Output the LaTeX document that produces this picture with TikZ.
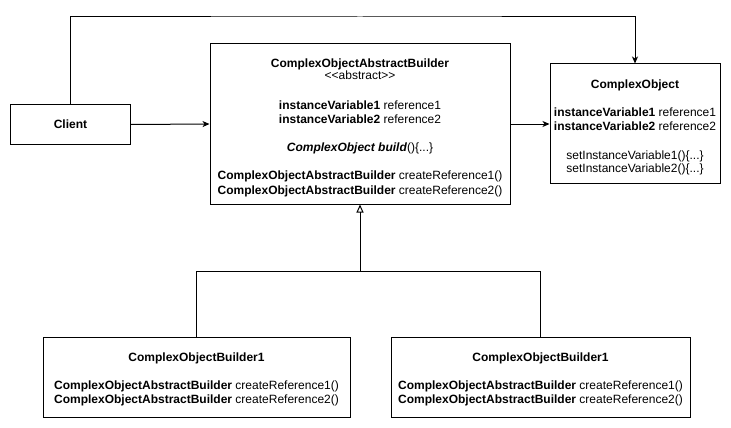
\documentclass[tikz,border=0pt]{standalone}
\usepackage{fontspec}
\setmainfont{Liberation Sans}
\usetikzlibrary{arrows.meta}
\begin{document}
\begin{tikzpicture}[x=1pt,y=-1pt,
  box/.style={draw=black, line width=1pt, fill=white, inner sep=0pt, align=center,
    font=\fontsize{12}{14}\selectfont},
  arr/.style={draw=black, line width=1pt, -{Stealth[length=7pt,width=6pt,inset=2pt]}},
  inh/.style={draw=black, line width=1pt, -{Triangle[open,length=8pt,width=7pt]}},
  plain/.style={draw=black, line width=1pt}]
\useasboundingbox[fill=white] (0,0) rectangle (731,428);

\node[box, minimum width=120pt, minimum height=40pt] (client) at (70.5,124.5) {\textbf{Client}};

\node[box, minimum width=300pt, minimum height=160pt] (builder) at (360,124) {%
\rule{0pt}{17pt}\textbf{ComplexObjectAbstractBuilder}\\[-2pt]
<{}<abstract>{}>\\[16pt]
\textbf{instanceVariable1} reference1\\
\textbf{instanceVariable2} reference2\\[14pt]
\textbf{\textit{ComplexObject build}}()\{...\}\\[14pt]
\textbf{ComplexObjectAbstractBuilder} createReference1()\\[1pt]
\textbf{ComplexObjectAbstractBuilder} createReference2()};

\node[box, minimum width=170pt, minimum height=119pt] (obj) at (635,123.5) {%
\rule{0pt}{17pt}\textbf{ComplexObject}\\[14pt]
\textbf{instanceVariable1} reference1\\
\textbf{instanceVariable2} reference2\\[15pt]
setInstanceVariable1()\{...\}\\[-1pt]
setInstanceVariable2()\{...\}};

\node[box, minimum width=307pt, minimum height=80pt] (lb) at (196.5,377) {%
\rule{0pt}{13pt}\textbf{ComplexObjectBuilder1}\\[14pt]
\textbf{ComplexObjectAbstractBuilder} createReference1()\\
\textbf{ComplexObjectAbstractBuilder} createReference2()};

\node[box, minimum width=299pt, minimum height=80pt] (rb) at (540.5,377) {%
\rule{0pt}{13pt}\textbf{ComplexObjectBuilder1}\\[14pt]
\textbf{ComplexObjectAbstractBuilder} createReference1()\\
\textbf{ComplexObjectAbstractBuilder} createReference2()};

\coordinate (top) at (360,17);
\coordinate (join) at (360,271);

\draw[arr] (client.north) |- (top) -| (obj.north);
\draw[arr] (client.east) -- (builder.west);
\draw[arr] (builder.east) -- (builder.east -| obj.west);
\draw[plain] (lb.north) |- (join);
\draw[plain] (rb.north) |- (join);
\draw[inh] (join) -- (builder.south);
\end{tikzpicture}
\end{document}
